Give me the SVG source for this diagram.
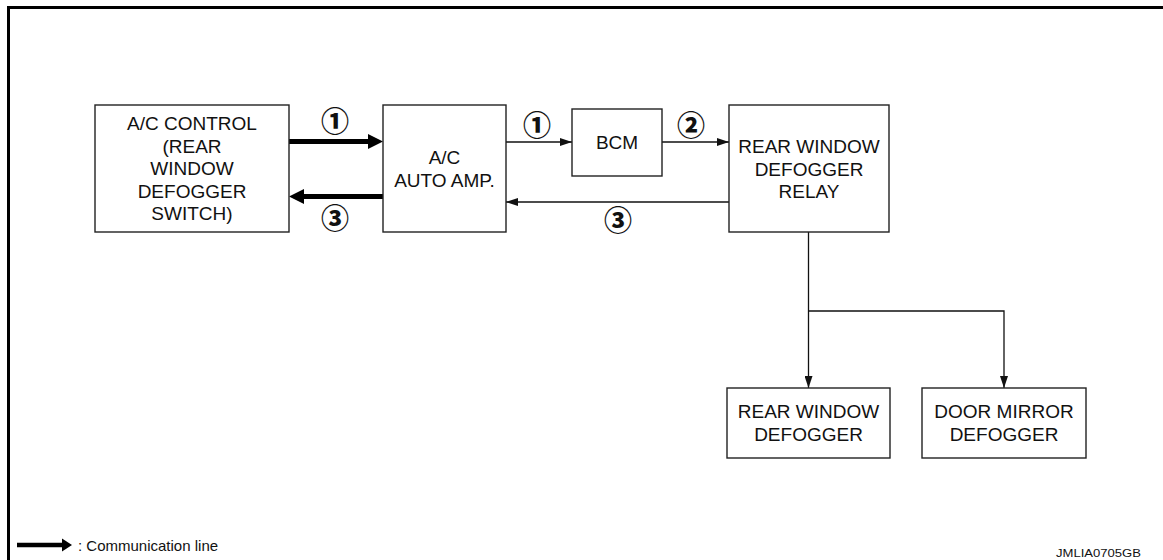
<svg xmlns="http://www.w3.org/2000/svg" width="1163" height="560" viewBox="0 0 1163 560">
<style>
.box{fill:#fff;stroke:#222;stroke-width:1.4}
.t{font-family:"Liberation Sans",Arial,sans-serif;font-size:19px;fill:#111;text-anchor:middle}
.num{font-family:"Noto Sans CJK JP","DejaVu Sans",sans-serif;font-size:28px;font-weight:900;fill:#111;text-anchor:middle}
.thin{stroke:#111;stroke-width:1.3;fill:none}
.thick{stroke:#000;stroke-width:5;fill:none}
.head{fill:#000}
</style>
<defs>
<marker id="ah" markerWidth="12" markerHeight="8" refX="12" refY="4" orient="auto" markerUnits="userSpaceOnUse">
<path d="M0,0 L12,4 L0,8 Z" fill="#111"/>
</marker>
</defs>
<rect width="1163" height="560" fill="#fff"/>
<g id="frame">
<line x1="7" y1="7.5" x2="1163" y2="7.5" stroke="#000" stroke-width="3"/>
<line x1="8.5" y1="6" x2="8.5" y2="560" stroke="#000" stroke-width="3"/>
</g>
<g id="connectors">
<line class="thick" x1="289" y1="141.5" x2="370" y2="141.5"/>
<path class="head" d="M368,134 L383,141.5 L368,149 Z"/>
<line class="thick" x1="383" y1="196.5" x2="302" y2="196.5"/>
<path class="head" d="M304,189 L289,196.5 L304,204 Z"/>
<line class="thin" x1="506" y1="142" x2="572" y2="142" marker-end="url(#ah)"/>
<line class="thin" x1="662" y1="142" x2="729" y2="142" marker-end="url(#ah)"/>
<line class="thin" x1="729" y1="202" x2="506" y2="202" marker-end="url(#ah)"/>
<line class="thin" x1="808.5" y1="232" x2="808.5" y2="388" marker-end="url(#ah)"/>
<polyline class="thin" points="808.5,311 1004,311 1004,388" marker-end="url(#ah)"/>
<text class="num" x="335" y="131.5">①</text>
<text class="num" x="335" y="228.5">③</text>
<text class="num" x="537" y="135.5">①</text>
<text class="num" x="691" y="135.5">②</text>
<text class="num" x="618" y="230.5">③</text>
</g>
<g id="ac_control">
<rect class="box" x="95" y="105" width="194" height="127"/>
<text class="t" x="192" y="130">A/C CONTROL</text>
<text class="t" x="192" y="152.5">(REAR</text>
<text class="t" x="192" y="175">WINDOW</text>
<text class="t" x="192" y="197.5">DEFOGGER</text>
<text class="t" x="192" y="220">SWITCH)</text>
</g>
<g id="ac_auto_amp">
<rect class="box" x="383" y="105" width="123" height="127"/>
<text class="t" x="444.5" y="164">A/C</text>
<text class="t" x="444.5" y="187">AUTO AMP.</text>
</g>
<g id="bcm">
<rect class="box" x="572" y="109" width="90" height="67"/>
<text class="t" x="617" y="149">BCM</text>
</g>
<g id="relay">
<rect class="box" x="729" y="105" width="160" height="127"/>
<text class="t" x="809" y="153">REAR WINDOW</text>
<text class="t" x="809" y="176">DEFOGGER</text>
<text class="t" x="809" y="198">RELAY</text>
</g>
<g id="rear_window_defogger">
<rect class="box" x="727" y="388" width="163" height="70"/>
<text class="t" x="808.5" y="418">REAR WINDOW</text>
<text class="t" x="808.5" y="441">DEFOGGER</text>
</g>
<g id="door_mirror_defogger">
<rect class="box" x="922" y="388" width="164" height="70"/>
<text class="t" x="1004" y="418">DOOR MIRROR</text>
<text class="t" x="1004" y="441">DEFOGGER</text>
</g>
<g id="legend">
<line x1="17" y1="545" x2="62" y2="545" stroke="#000" stroke-width="4.5"/>
<path d="M62,538.5 L72,545 L62,551.5 Z" fill="#000"/>
<text x="78" y="551" font-family="'Liberation Sans',Arial,sans-serif" font-size="15" fill="#111">: Communication line</text>
</g>
<text x="1056" y="557" font-family="'Liberation Sans',Arial,sans-serif" font-size="11" fill="#111" textLength="85" lengthAdjust="spacingAndGlyphs">JMLIA0705GB</text>
</svg>
